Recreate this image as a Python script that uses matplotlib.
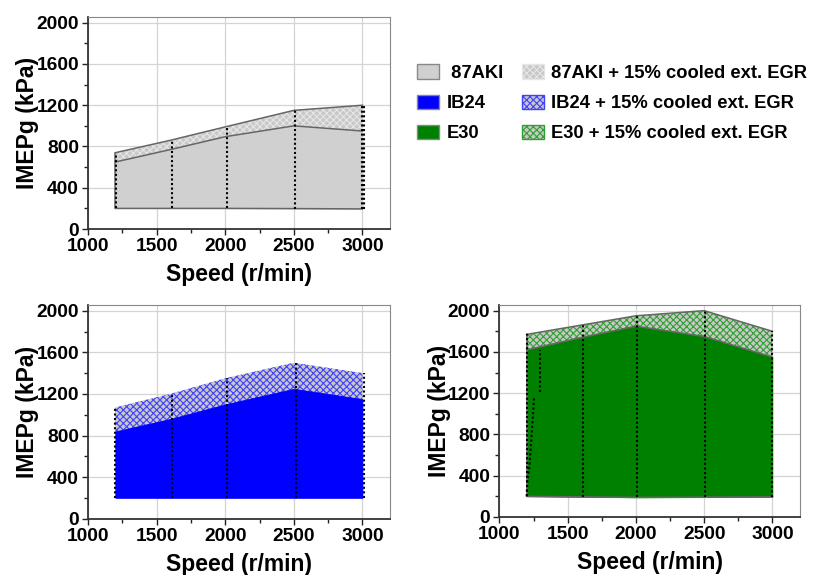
import numpy as np
import matplotlib
matplotlib.use("Agg")
import matplotlib.pyplot as plt
from matplotlib.patches import Patch

plt.rcParams["font.family"] = ["Liberation Sans", "DejaVu Sans"]
plt.rcParams["font.weight"] = "bold"
plt.rcParams["hatch.linewidth"] = 0.8

# engine speed points (r/min)
speed = [1200, 1600, 2000, 2500, 3000]

# 87AKI
aki_low = [200, 200, 200, 198, 195]
aki_base = [650, 770, 895, 1000, 950]
aki_egr = [740, 860, 990, 1150, 1200]
aki_sweeps = [1205, 1610, 2010, 2505, 3000, 3010]

# IB24
ib_low = [200, 200, 200, 200, 200]
ib_base = [840, 960, 1100, 1250, 1150]
ib_egr = [1070, 1200, 1350, 1500, 1400]
ib_sweeps = [1200, 1610, 2015, 2515, 3010]

# E30
e30_low = [200, 195, 190, 192, 195]
e30_base = [1620, 1740, 1850, 1750, 1550]
e30_egr = [1770, 1860, 1950, 2000, 1800]
e30_sweeps = [1200, 1610, 2010, 2510, 3000]
e30_knee_x = [1200, 1205, 1220, 1245, 1255]
e30_knee_y = [200, 360, 490, 970, 1170]
e30_knee2_x = [1295, 1295]
e30_knee2_y = [1210, 1620]

fig = plt.figure(figsize=(8.16, 5.75), dpi=100)
DOTS = (0, (1, 1.2))


def panel(rect, low, base, egr, sweeps, color, hatch_col, edge):
    ax = fig.add_axes(rect)
    ax.set_axisbelow(True)
    ax.fill_between(speed, low, egr, facecolor="#c8c8c8", edgecolor=hatch_col,
                    hatch="xxxxx", linewidth=0, zorder=2)
    ax.fill_between(speed, low, base, facecolor=color, edgecolor=color,
                    linewidth=0.5, zorder=3)
    if edge:
        for ys in (low, base, egr):
            ax.plot(speed, ys, color=edge, lw=1.1, zorder=4)
        ax.plot([speed[0]] * 2, [low[0], egr[0]], color=edge, lw=1.1, zorder=4)
    for x in sweeps:
        top = np.interp(x, speed, egr)
        bot = np.interp(x, speed, low)
        ax.plot([x, x], [bot, top], color="black", lw=1.5, linestyle=DOTS, zorder=5)
    ax.set_xlim(1000, 3200)
    ax.set_ylim(0, 2055)
    ax.set_xticks([1000, 1500, 2000, 2500, 3000])
    ax.set_xticks([1250, 1750, 2250, 2750], minor=True)
    ax.set_yticks(range(0, 2001, 400))
    ax.set_yticks(range(200, 2001, 400), minor=True)
    ax.grid(True, which="major", color="#d4d4d4", lw=0.9)
    ax.tick_params(which="both", direction="out", colors="#222222",
                   labelsize=13.8, width=1, pad=2.5)
    ax.tick_params(which="major", length=4)
    ax.tick_params(which="minor", length=3)
    for lbl in ax.get_xticklabels() + ax.get_yticklabels():
        lbl.set_fontweight("bold")
        lbl.set_color("black")
    ax.spines["left"].set_color("#333333")
    ax.spines["bottom"].set_color("#333333")
    ax.spines["left"].set_linewidth(1.3)
    ax.spines["bottom"].set_linewidth(1.3)
    ax.spines["top"].set_color("#888888")
    ax.spines["right"].set_color("#888888")
    ax.set_xlabel("Speed (r/min)", fontsize=16.5, fontweight="bold", labelpad=6)
    ax.set_ylabel("IMEPg (kPa)", fontsize=16.5, fontweight="bold", labelpad=-2)
    return ax


panel([0.1078, 0.6017, 0.370, 0.3687], aki_low, aki_base, aki_egr, aki_sweeps,
      "#d0d0d0", "#e6e6e6", "#666666")
panel([0.1078, 0.0979, 0.370, 0.3717], ib_low, ib_base, ib_egr, ib_sweeps,
      "#0000ff", "#4040ff", None)
ax3 = panel([0.612, 0.1009, 0.368, 0.3687], e30_low, e30_base, e30_egr, e30_sweeps,
            "#008000", "#30a030", "#666666")
ax3.plot(e30_knee_x, e30_knee_y, color="black", lw=1.5, linestyle=DOTS, zorder=5)
ax3.plot(e30_knee2_x, e30_knee2_y, color="black", lw=1.5, linestyle=DOTS, zorder=5)

# legend: base fuels on the left, EGR variants on the right
base_handles = [
    Patch(facecolor="#d0d0d0", edgecolor="#888888", label=" 87AKI"),
    Patch(facecolor="#0000ff", edgecolor="#888888", label="IB24"),
    Patch(facecolor="#008000", edgecolor="#888888", label="E30"),
]
egr_handles = [
    Patch(facecolor="#c8c8c8", edgecolor="#e6e6e6", hatch="xxxxx",
          label="87AKI + 15% cooled ext. EGR"),
    Patch(facecolor="#c8c8c8", edgecolor="#4040ff", hatch="xxxxx",
          label="IB24 + 15% cooled ext. EGR"),
    Patch(facecolor="#c8c8c8", edgecolor="#30a030", hatch="xxxxx",
          label="E30 + 15% cooled ext. EGR"),
]
legkw = dict(frameon=False, borderpad=0, borderaxespad=0, handlelength=1.18,
             handleheight=0.8, handletextpad=0.42, labelspacing=0.7,
             prop={"weight": "bold", "size": 13.2})
fig.legend(handles=base_handles, loc="upper left",
           bbox_to_anchor=(417 / 816, 1 - 64.5 / 575), **legkw)
fig.legend(handles=egr_handles, loc="upper left",
           bbox_to_anchor=(522 / 816, 1 - 64.5 / 575), **legkw)

fig.savefig("out.png", dpi=100)
